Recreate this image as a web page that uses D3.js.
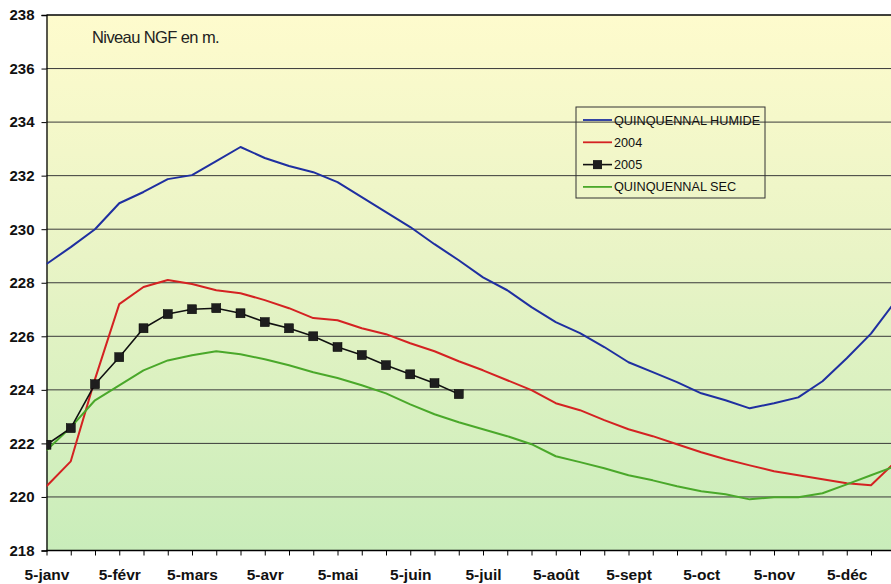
<!DOCTYPE html>
<html><head><meta charset="utf-8">
<script src="https://cdn.jsdelivr.net/npm/d3@7"></script>
<style>body{margin:0;background:#fff}svg{display:block}</style>
</head><body>
<svg id="c" width="891" height="584"></svg>
<script>
const categories = ["5-janv","15-janv","25-janv","5-févr","15-févr","25-févr","5-mars","15-mars","25-mars",
  "5-avr","15-avr","25-avr","5-mai","15-mai","25-mai","5-juin","15-juin","25-juin",
  "5-juil","15-juil","25-juil","5-août","15-août","25-août","5-sept","15-sept","25-sept",
  "5-oct","15-oct","25-oct","5-nov","15-nov","25-nov","5-déc","15-déc","25-déc"];
const humide = [228.7,229.33,230.0,230.97,231.39,231.87,232.02,232.54,233.07,232.66,232.36,232.13,
  231.76,231.2,230.64,230.08,229.44,228.84,228.2,227.72,227.09,226.53,226.12,225.6,
  225.03,224.66,224.29,223.87,223.61,223.31,223.5,223.72,224.32,225.18,226.1,227.3];
const y2004 = [220.4,221.33,224.4,227.2,227.84,228.1,227.95,227.72,227.61,227.35,227.05,226.68,
  226.6,226.3,226.08,225.74,225.44,225.07,224.73,224.36,223.99,223.5,223.24,222.87,
  222.53,222.27,221.97,221.67,221.41,221.18,220.96,220.81,220.66,220.51,220.44,221.3];
const y2005 = [221.95,222.57,224.21,225.22,226.3,226.83,227.01,227.05,226.86,226.53,226.3,226.0,
  225.6,225.3,224.92,224.58,224.25,223.84];
const sec = [221.74,222.6,223.61,224.17,224.73,225.1,225.29,225.44,225.33,225.14,224.92,224.66,
  224.44,224.17,223.87,223.46,223.09,222.79,222.53,222.27,221.97,221.52,221.3,221.07,
  220.81,220.62,220.4,220.21,220.1,219.91,219.99,219.99,220.14,220.47,220.81,221.15];
const yTicks = [218,220,222,224,226,228,230,232,234,236,238];
const seriesNames = ["QUINQUENNAL HUMIDE","2004","2005","QUINQUENNAL SEC"];
const seriesColors = ["#1f2fa0","#d42222","#111111","#4aa82a"];

const svg = d3.select("#c");
const x = d3.scalePoint().domain(d3.range(categories.length)).range([46.5, 46.5 + 35*24.25]);
const y = d3.scaleLinear().domain([218,238]).range([550.5, 15]);
const pL = 46.5, pR = 900, pT = y(238), pB = y(218);

const defs = svg.append("defs");
const g = defs.append("linearGradient").attr("id","bg").attr("x1",0).attr("y1",0).attr("x2",0).attr("y2",1);
g.append("stop").attr("offset","0%").attr("stop-color","#fefbcd");
g.append("stop").attr("offset","45%").attr("stop-color","#e9f4c6");
g.append("stop").attr("offset","100%").attr("stop-color","#c9edba");
defs.append("clipPath").attr("id","clip").append("rect").attr("x",pL).attr("y",pT-2).attr("width",pR-pL).attr("height",pB-pT+4);

svg.append("rect").attr("x",pL).attr("y",pT).attr("width",pR-pL).attr("height",pB-pT).attr("fill","url(#bg)");

// gridlines
svg.append("g").selectAll("line").data(yTicks).join("line")
  .attr("x1",pL).attr("x2",pR).attr("y1",d=>y(d)).attr("y2",d=>y(d))
  .attr("stroke",d=>d===238?"#000":"#3a3a3a").attr("stroke-width",d=>d===238?1.3:1);

// y axis
const yAxis = svg.append("g").attr("transform",`translate(${pL},0)`)
  .call(d3.axisLeft(y).tickValues(yTicks).tickSize(5).tickPadding(7).tickFormat(d3.format("d")));
yAxis.select(".domain").attr("stroke","#000").attr("stroke-width",1.3);
yAxis.selectAll(".tick line").attr("stroke","#000");
yAxis.selectAll("text").attr("font-family","Arial, 'Liberation Sans', sans-serif").attr("font-size",15).attr("font-weight","bold").attr("fill","#111");

// x axis
const xAxis = svg.append("g").attr("transform",`translate(0,${pB})`)
  .call(d3.axisBottom(x).tickSize(5).tickPadding(13).tickFormat((d,i)=> i%3===0 ? categories[i] : ""));
xAxis.select(".domain").attr("stroke","#000").attr("stroke-width",1.3).attr("d",`M${pL},0H${pR}`);
xAxis.selectAll(".tick line").attr("stroke","#000");
xAxis.selectAll("text").attr("font-family","Arial, 'Liberation Sans', sans-serif").attr("font-size",15.5).attr("font-weight","bold").attr("fill","#111");

// lines
const line = d3.line().x((d,i)=>x(i)).y(d=>y(d));
const plot = svg.append("g").attr("clip-path","url(#clip)");
[[humide,0],[y2004,1],[sec,3],[y2005,2]].forEach(([data,k])=>{
  plot.append("path").datum(data).attr("d",line).attr("fill","none")
    .attr("stroke",seriesColors[k]).attr("stroke-width",k===2?1.6:2).attr("stroke-linejoin","round");
});
plot.append("g").selectAll("rect").data(y2005).join("rect")
  .attr("x",(d,i)=>x(i)-4.5).attr("y",d=>y(d)-4.5).attr("width",9).attr("height",9)
  .attr("fill","#1e1e1e").attr("stroke","#000").attr("stroke-width",0.5);

// title
svg.append("text").attr("x",92).attr("y",43).text("Niveau NGF en m.")
  .attr("font-family","Arial, 'Liberation Sans', sans-serif").attr("font-size",16.5).attr("letter-spacing",-0.6).attr("fill","#222");

// legend
const lg = svg.append("g").attr("transform","translate(576,107)");
lg.append("rect").attr("width",189).attr("height",91).attr("fill","none").attr("stroke","#333").attr("stroke-width",1);
seriesNames.forEach((n,k)=>{
  const yy = 13 + k*22.3;
  lg.append("line").attr("x1",7).attr("x2",36).attr("y1",yy).attr("y2",yy).attr("stroke",seriesColors[k]).attr("stroke-width",k===2?1.6:1.8);
  if(k===2) lg.append("rect").attr("x",17).attr("y",yy-4.5).attr("width",9).attr("height",9).attr("fill","#1e1e1e");
  lg.append("text").attr("x",38).attr("y",yy+4.5).text(n)
    .attr("font-family","Arial, 'Liberation Sans', sans-serif").attr("font-size",12.7).attr("fill","#111");
});
</script>
</body></html>
